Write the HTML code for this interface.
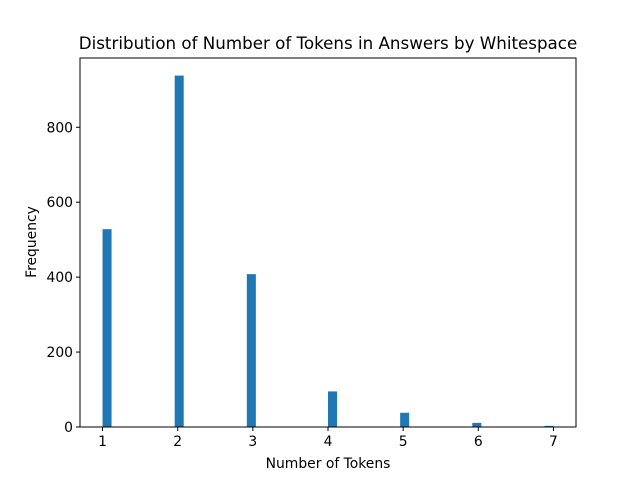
<!DOCTYPE html>
<html><head><meta charset="utf-8"><style>
body{margin:0;background:#fff}
svg text{font-family:"DejaVu Sans","Liberation Sans",sans-serif;fill:#000}
</style></head><body>
<svg id="c" width="640" height="480" xmlns="http://www.w3.org/2000/svg">
<rect width="640" height="480" fill="#fff"/>
<text x="328" y="49" font-size="16.7" text-anchor="middle">Distribution of Number of Tokens in Answers by Whitespace</text>
<text x="328" y="468" font-size="13.9" text-anchor="middle">Number of Tokens</text>
<text transform="translate(36,242) rotate(-90)" font-size="13.9" text-anchor="middle">Frequency</text>
<g id="bars"></g><g id="ticks"></g>
<rect x="80" y="58" width="496" height="369" fill="none" stroke="#000" stroke-width="1"/>
</svg>
<script>
const categories=[1,2,3,4,5,6,7];
const counts=[528,938,408,95,38,11,3];
const xTicks=[1,2,3,4,5,6,7];
const yTicks=[0,200,400,600,800];
const binMin=1,binMax=7,nBins=50;
const bw=(binMax-binMin)/nBins;
const X0=80,X1=576,Y0=427,Y1=58;
const xmin=binMin-0.05*(binMax-binMin),xmax=binMax+0.05*(binMax-binMin);
const ymax=Math.max(...counts)*1.05;
const sx=v=>X0+(v-xmin)/(xmax-xmin)*(X1-X0);
const sy=v=>Y0-v/ymax*(Y0-Y1);
const NS="http://www.w3.org/2000/svg";
const bars=document.getElementById('bars'),ticks=document.getElementById('ticks');
categories.forEach((c,i)=>{
  let b=Math.min(nBins-1,Math.floor((c-binMin)/bw+1e-9));
  const l=binMin+b*bw;
  const r=document.createElementNS(NS,'rect');
  r.setAttribute('x',sx(l));r.setAttribute('width',sx(l+bw)-sx(l));
  r.setAttribute('y',sy(counts[i]));r.setAttribute('height',Y0-sy(counts[i]));
  r.setAttribute('fill','#1f77b4');
  
  
  bars.appendChild(r);
});
xTicks.forEach(t=>{
  const x=sx(t);
  const l=document.createElementNS(NS,'line');
  l.setAttribute('x1',x);l.setAttribute('x2',x);l.setAttribute('y1',Y0);l.setAttribute('y2',Y0+4);l.setAttribute('stroke','#000');
  
  
  ticks.appendChild(l);
  const tx=document.createElementNS(NS,'text');
  tx.setAttribute('x',x);tx.setAttribute('y',Y0+19);tx.setAttribute('font-size','13.9');tx.setAttribute('text-anchor','middle');tx.textContent=t;
  
  
  ticks.appendChild(tx);
});
yTicks.forEach(t=>{
  const y=sy(t);
  const l=document.createElementNS(NS,'line');
  l.setAttribute('x1',X0-4);l.setAttribute('x2',X0);l.setAttribute('y1',y);l.setAttribute('y2',y);l.setAttribute('stroke','#000');
  
  
  ticks.appendChild(l);
  const tx=document.createElementNS(NS,'text');
  tx.setAttribute('x',X0-7);tx.setAttribute('y',y+5);tx.setAttribute('font-size','13.9');tx.setAttribute('text-anchor','end');tx.textContent=t;
  
  
  ticks.appendChild(tx);
});
</script>
</body></html>
